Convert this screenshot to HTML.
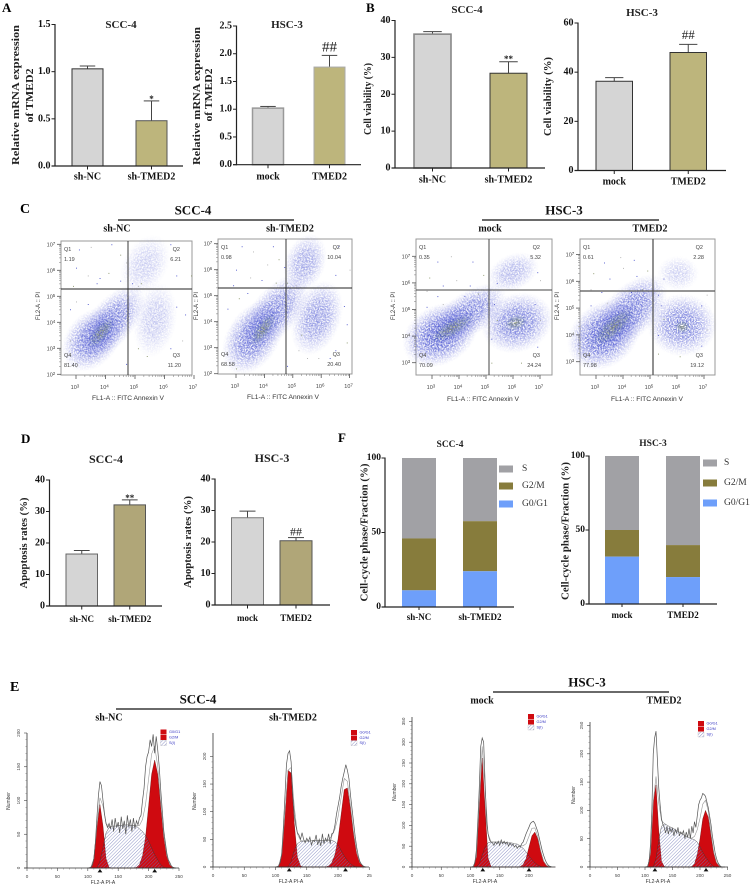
<!DOCTYPE html>
<html lang="en">
<head>
<meta charset="utf-8">
<title>TMED2 multi-panel figure</title>
<style>
html,body{margin:0;padding:0;background:#fff;}
svg{display:block;}
text{font-family:"Liberation Serif",serif;}
</style>
</head>
<body>
<svg id="figure" xmlns="http://www.w3.org/2000/svg" width="750" height="887" viewBox="0 0 750 887">
<defs>
<radialGradient id="blobBlue"><stop offset="0" stop-color="#2a36c8" stop-opacity="0.9"/><stop offset="0.45" stop-color="#3540cc" stop-opacity="0.72"/><stop offset="0.75" stop-color="#5a62d8" stop-opacity="0.35"/><stop offset="1" stop-color="#8a90e4" stop-opacity="0"/></radialGradient>
<radialGradient id="blobCore"><stop offset="0" stop-color="#8f9a3c" stop-opacity="0.9"/><stop offset="0.6" stop-color="#6c8a7a" stop-opacity="0.55"/><stop offset="1" stop-color="#4a60b0" stop-opacity="0"/></radialGradient>
<filter id="speckle" x="0" y="0" width="100%" height="100%" color-interpolation-filters="sRGB">
<feTurbulence type="fractalNoise" baseFrequency="0.75" numOctaves="1" seed="4" result="n"/>
<feColorMatrix in="n" type="matrix" values="0 0 0 0 0  0 0 0 0 0  0 0 0 0 0  3.2 0 0 0 -1.05" result="m"/>
<feComposite in="SourceGraphic" in2="m" operator="in"/>
</filter>
<pattern id="hatch" width="2.4" height="2.4" patternUnits="userSpaceOnUse" patternTransform="rotate(45)">
<line x1="0" y1="0" x2="0" y2="2.4" stroke="#6f76b6" stroke-width="0.75"/>
</pattern>
</defs>
<text x="2" y="12" font-size="13" font-weight="bold">A</text>
<text x="366" y="12" font-size="13" font-weight="bold">B</text>
<text x="20" y="213" font-size="14" font-weight="bold">C</text>
<text x="21" y="443" font-size="13" font-weight="bold">D</text>
<text x="10" y="691" font-size="14" font-weight="bold">E</text>
<text x="338" y="442" font-size="13" font-weight="bold">F</text>
</svg>
<script>
/* ---------- bar chart data ---------- */
const mrnaScc4Categories = ['sh-NC','sh-TMED2'];
const mrnaScc4Values = [1.03,0.48];
const mrnaScc4Errors = [0.03,0.21];
const mrnaScc4Marks = ['','*'];
const mrnaScc4Ticks = ['0.0','0.5','1.0','1.5'];

const mrnaHsc3Categories = ['mock','TMED2'];
const mrnaHsc3Values = [1.02,1.76];
const mrnaHsc3Errors = [0.03,0.21];
const mrnaHsc3Marks = ['','##'];
const mrnaHsc3Ticks = ['0.0','0.5','1.0','1.5','2.0','2.5'];

const viabilityScc4Categories = ['sh-NC','sh-TMED2'];
const viabilityScc4Values = [36.3,25.7];
const viabilityScc4Errors = [0.7,3.1];
const viabilityScc4Marks = ['','**'];
const viabilityScc4Ticks = ['0','10','20','30','40'];

const viabilityHsc3Categories = ['mock','TMED2'];
const viabilityHsc3Values = [36.3,48];
const viabilityHsc3Errors = [1.5,3.3];
const viabilityHsc3Marks = ['','##'];
const viabilityHsc3Ticks = ['0','20','40','60'];

const apoptosisScc4Categories = ['sh-NC','sh-TMED2'];
const apoptosisScc4Values = [16.5,32.1];
const apoptosisScc4Errors = [1.1,1.6];
const apoptosisScc4Marks = ['','**'];
const apoptosisScc4Ticks = ['0','10','20','30','40'];

const apoptosisHsc3Categories = ['mock','TMED2'];
const apoptosisHsc3Values = [27.7,20.4];
const apoptosisHsc3Errors = [2.1,1.0];
const apoptosisHsc3Marks = ['','##'];
const apoptosisHsc3Ticks = ['0','10','20','30','40'];

/* ---------- stacked cell-cycle data ---------- */
const cycleLegend = ['S','G2/M','G0/G1'];
const cycleTicks = ['0','50','100'];
const cycleScc4Categories = ['sh-NC','sh-TMED2'];
const cycleScc4G0G1 = [11.2,24];
const cycleScc4G2M = [34.8,33.6];
const cycleScc4S = [54,42.4];
const cycleHsc3Categories = ['mock','TMED2'];
const cycleHsc3G0G1 = [32,18.2];
const cycleHsc3G2M = [18,21.6];
const cycleHsc3S = [50,60.2];

/* ---------- flow cytometry data (log10 decades) ---------- */
const flowDecadeLabels = [3,4,5,6,7];
const flowYDecadeLabels = [2,3,4,5,6,7];
/* population: [log x, log y, major radius, minor radius, angle, weight] */
const flowPop1 = [[3.55,3.35,1.0,0.72,-50,0.85],[4.2,4.0,1.25,0.62,-50,0.8],[5.68,4.09,1.05,0.6,-80,0.34],[5.34,6.2,0.9,0.62,-60,0.3]];
const flowPop2 = [[3.6,3.4,1.15,0.75,-58,0.85],[4.35,4.35,1.3,0.65,-50,0.75],[5.85,4.14,1.1,0.68,-70,0.65],[5.43,6.26,0.85,0.58,-70,0.55]];
const flowPop3 = [[3.3,4.05,1.15,0.85,-30,1],[4.3,4.8,1.3,0.62,-35,0.8],[6.15,4.5,1.05,0.85,-20,0.8],[6.0,6.4,0.78,0.52,-25,0.45]];
const flowPop4 = [[3.3,4.0,1.15,0.9,-40,1],[4.25,4.85,1.35,0.72,-45,0.85],[6.19,4.37,1.0,0.9,0,0.75],[6.04,6.3,0.6,0.5,0,0.28]];
/* densest spot of each plot: [log x, log y, major, minor, angle] */
const flowCore1 = [[3.85,3.6,0.7,0.28,-50]];
const flowCore2 = [[3.95,3.7,0.75,0.28,-55]];
const flowCore3 = [[3.75,4.3,0.95,0.32,-30],[6.1,4.5,0.45,0.3,-20]];
const flowCore4 = [[3.65,4.3,1.0,0.38,-42],[6.2,4.3,0.3,0.25,0]];
const flowSparse1 = [[3.1,6.8],[3.5,6.9],[4.2,7.0],[4.5,6.6],[3.0,6.1],[3.4,5.8],[3.8,5.7],[4.1,5.9],[4.5,5.6],[4.7,6.3],[3.7,5.5],[2.9,5.4],[4.9,5.5],[5.1,5.4],[6.4,5.8],[6.9,5.8],[6.2,7.0],[3.0,2.3],[4.7,2.4],[5.4,2.7],[6.2,3.0],[6.6,3.3],[6.4,4.6],[5.2,5.5],[2.8,4.5],[3.0,4.8],[3.4,4.7],[5.1,3.0],[6.7,4.3],[2.8,3.3]];
const flowSparse2 = [[3.2,6.9],[3.6,6.7],[4.3,6.9],[4.5,6.4],[3.0,6.0],[3.5,5.7],[3.9,5.6],[4.4,5.5],[4.7,6.1],[4.1,6.2],[2.9,5.4],[4.8,5.5],[6.5,5.8],[7.0,6.0],[6.6,6.9],[3.0,2.2],[4.8,2.3],[5.2,2.9],[6.5,2.9],[6.9,3.2],[6.8,4.6],[5.1,5.4],[2.7,4.5],[3.1,4.9],[3.4,5.1],[5.5,2.6],[6.9,3.9],[5.3,3.5],[6.3,2.6],[5.9,2.6]];
const flowSparse3 = [[3.2,6.8],[3.7,7.0],[4.5,6.8],[2.9,6.2],[3.4,5.9],[3.9,6.1],[4.4,5.9],[4.9,6.3],[4.2,5.5],[2.8,5.7],[3.2,5.5],[4.7,5.6],[6.9,6.4],[7.0,6.1],[5.4,6.0],[5.2,3.0],[6.8,5.2],[7.0,4.6],[5.3,5.2],[5.4,4.6],[2.8,5.1],[3.4,5.2],[5.2,3.9],[6.3,3.0],[6.9,3.6]];
const flowSparse4 = [[3.3,6.7],[3.9,6.9],[4.4,6.8],[2.9,6.3],[3.5,6.1],[4.0,6.5],[4.5,6.2],[4.9,6.4],[4.3,5.6],[2.8,5.7],[3.2,5.6],[4.7,5.7],[5.5,6.1],[7.1,5.5],[5.3,5.5],[5.3,3.3],[6.9,5.1],[7.1,4.2],[5.4,5.1],[5.5,4.6],[2.8,5.1],[3.4,5.2],[5.3,4.0],[6.1,3.2],[6.9,3.6]];
const flowQuad1 = ['1.19','6.21','11.20','81.40'];
const flowQuad2 = ['0.98','10.04','20.40','68.58'];
const flowQuad3 = ['0.35','5.32','24.24','70.09'];
const flowQuad4 = ['0.61','2.28','19.12','77.98'];

/* ---------- cell-cycle histogram data ---------- */
const channels = [100,105,110,115,120,125,130,135,140,145,150,155,160,165,170,175,180,185,190,195,200,205,210,215,220,225,230,235,240,245];
const channelsFine = [100,102.5,105,107.5,110,112.5,115,117.5,120,122.5,125,127.5,130,132.5,135,137.5,140,142.5,145,147.5,150,152.5,155,157.5,160,162.5,165,167.5,170,172.5,175,177.5,180,182.5,185,187.5,190,192.5,195,197.5,200,202.5,205,207.5,210,212.5,215,217.5,220,222.5,225,227.5,230,232.5,235,237.5,240,242.5,245];

const hist1G1 = [0,1,14,62,94,62,14,1,0,0,0,0,0,0,0,0,0,0,0,0,0,0,0,0,0,0,0,0,0,0];
const hist1G2 = [0,0,0,0,0,0,0,0,0,0,0,0,0,0,0,0,1,5,18,46,92,139,160,139,92,46,18,5,1,0];
const hist1S = [0,0,0,0,10,30,52,60,62,62,63,63,64,64,63,63,62,58,54,48,40,30,20,12,5,1,0,0,0,0];
const hist1Raw = [0,0,1,4,14,38,75,108,128,122,100,80,66,60,66,58,72,54,74,60,68,52,76,58,70,50,78,60,72,54,74,58,70,64,74,78,100,118,150,165,172,190,180,198,170,195,175,150,115,85,55,38,22,12,8,3,1,0,0];

const hist2G1 = [0,2,22,95,175,170,80,18,2,0,0,0,0,0,0,0,0,0,0,0,0,0,0,0,0,0,0,0,0,0];
const hist2G2 = [0,0,0,0,0,0,0,0,0,0,0,0,0,0,0,0,0,2,8,22,50,95,140,143,105,60,25,8,2,0];
const hist2S = [0,0,0,0,0,10,30,42,46,47,47,47,48,48,48,48,48,48,48,46,40,30,20,12,6,2,0,0,0,0];
const hist2Raw = [0,0,2,8,25,70,125,185,205,210,190,130,95,75,62,58,50,62,50,44,52,46,54,40,48,46,58,40,50,38,60,42,52,46,60,42,60,62,75,95,110,125,145,160,172,185,175,160,130,105,80,55,35,20,10,5,2,0,0];

const hist3G1 = [0,1,25,145,262,140,22,1,0,0,0,0,0,0,0,0,0,0,0,0,0,0,0,0,0,0,0,0,0,0];
const hist3G2 = [0,0,0,0,0,0,0,0,0,0,0,0,0,0,0,0,0,1,6,20,48,75,84,68,38,14,4,1,0,0];
const hist3S = [0,0,0,8,28,48,58,60,60,60,60,59,59,58,58,56,55,50,45,36,26,18,10,5,1,0,0,0,0,0];
const hist3Raw = [0,0,2,10,40,110,190,290,310,300,200,110,80,65,60,58,52,60,55,62,52,65,56,62,55,60,50,58,52,55,48,52,45,50,48,56,60,70,80,88,96,105,108,110,105,95,85,70,55,40,28,18,10,5,2,1,0,0,0];

const hist4G1 = [0,1,25,115,145,65,10,1,0,0,0,0,0,0,0,0,0,0,0,0,0,0,0,0,0,0,0,0,0,0];
const hist4G2 = [0,0,0,0,0,0,0,0,0,0,0,0,0,0,0,0,0,1,6,22,50,85,100,88,55,25,8,2,0,0];
const hist4S = [0,0,0,0,15,48,72,76,74,71,69,66,63,60,57,54,52,50,48,44,36,26,18,11,5,1,0,0,0,0];
const hist4Raw = [0,0,2,10,40,100,200,228,240,190,140,110,85,75,70,60,72,58,70,62,68,55,66,60,70,55,62,58,64,50,62,52,68,50,72,60,80,70,90,110,118,122,130,128,125,115,105,90,75,55,40,25,15,8,4,1,0,0,0];

const histXTicks1 = [0,50,100,150,200,250];
const histYTicks1 = [0,50,100,150,200];
const histXTicks2 = [0,50,100,150,200,250];
const histYTicks2 = [0,50,100,150,200];
const histXTicks3 = [0,50,100,150,200];
const histYTicks3 = [0,50,100,150,200,250,300,350];
const histXTicks4 = [0,50,100,150,200,250];
const histYTicks4 = [0,50,100,150,200,250];
const histPeaks1 = [120,210];
const histPeaks2 = [122,212];
const histPeaks3 = [121,200];
const histPeaks4 = [118,211];
const histLegend = ['G0/G1','G2/M','S(I)'];

/* ---------- helpers ---------- */
const NS = 'http://www.w3.org/2000/svg';
const root = document.getElementById('figure');
function mk(parent, tag, attrs, name) {
  const el = document.createElementNS(NS, tag);
  for (const k in attrs) el.setAttribute(k, attrs[k]);
  
  
  parent.appendChild(el);
  return el;
}
function txt(parent, s, x, y, o, name) {
  o = o || {};
  const a = {x: x, y: y, 'font-size': o.size || 10, 'text-anchor': o.anchor || 'middle', 'dominant-baseline': 'central', fill: o.fill || '#111'};
  if (o.bold) a['font-weight'] = 'bold';
  if (o.sans) a.style = 'font-family:"Liberation Sans",sans-serif';
  if (o.len) { a.textLength = o.len; a.lengthAdjust = 'spacingAndGlyphs'; }
  if (o.rot) a.transform = 'rotate(' + o.rot + ' ' + x + ' ' + y + ')';
  const el = mk(parent, 'text', a, name);
  el.textContent = s;
  return el;
}
function line(parent, x1, y1, x2, y2, stroke, w, name) {
  return mk(parent, 'line', {x1: x1, y1: y1, x2: x2, y2: y2, stroke: stroke, 'stroke-width': w}, name);
}

/* ---------- bar charts ---------- */
function barChart(c) {
  const g = mk(root, 'g', {}, c.name);
  const yS = v => c.y0 - (v / c.yMax) * (c.y0 - c.yTop);
  const xS = i => c.bar0 + c.step * i;
  const n = c.ticks.length;
  c.ticks.forEach((t, i) => {
    const v = c.yMax * i / (n - 1);
    line(g, c.ax - 3.5, yS(v), c.ax, yS(v), '#222', 1, 'y-tick');
    txt(g, t, c.ax - 4.5, yS(v), {size: c.tickSize || 10, bold: true, anchor: 'end'}, 'y-tick-label');
  });
  c.values.forEach((v, i) => {
    const w = c.barW, x = xS(i);
    const fill = i === 0 ? '#d5d5d5' : c.olive;
    line(g, x + w / 2, yS(v), x + w / 2, yS(v + c.errors[i]), '#444', 1, 'error-bar-' + c.cats[i]);
    line(g, x + w / 4, yS(v + c.errors[i]), x + 3 * w / 4, yS(v + c.errors[i]), '#444', 1, 'error-cap-' + c.cats[i]);
    mk(g, 'rect', {x: x, y: yS(v), width: w, height: c.y0 - yS(v), fill: fill, stroke: i === 0 ? c.stroke0 : c.stroke1, 'stroke-width': i === 0 ? c.sw0 : 1}, 'bar-' + c.cats[i]);
    line(g, x + w / 2, c.y0, x + w / 2, c.y0 + 3.5, '#222', 1, 'x-tick');
    txt(g, c.cats[i], x + w / 2 + (c.labelDx || 0), c.labelY, {size: c.labelSize || 10, bold: true}, 'x-label-' + c.cats[i]);
    if (c.marks[i]) {
      const isHash = c.marks[i][0] === '#';
      txt(g, c.marks[i], x + w / 2, yS(v + c.errors[i]) - (c.markDy || 6), {size: isHash ? c.hashSize : 9, bold: !isHash, fill: '#222'}, 'significance-mark');
    }
  });
  line(g, c.ax, c.yTop - 0.5, c.ax, c.y0 + 0.5, '#222', 1.2, 'y-axis');
  line(g, c.ax - 3.5, c.y0, c.xEnd, c.y0, '#222', 1.2, 'x-axis');
  txt(g, c.title, c.titleX, c.titleY, {size: c.titleSize || 11, bold: true, fill: '#222'}, 'chart-title');
  c.ylabel.forEach(l => {
    txt(g, l.t, l.x, l.y, {size: 11, bold: true, rot: -90, len: l.len, fill: '#222'}, 'y-axis-title');
  });
}
barChart({name:'mrna-scc4-chart', cats:mrnaScc4Categories, values:mrnaScc4Values, errors:mrnaScc4Errors, marks:mrnaScc4Marks, ticks:mrnaScc4Ticks,
  yMax:1.5, ax:55, y0:166, yTop:24.5, xEnd:183, bar0:72, step:64, barW:31, olive:'#bdb57c', stroke0:'#333', stroke1:'#555', sw0:1, labelY:177, markDy:2, hashSize:15,
  title:'SCC-4', titleX:121, titleY:25, ylabel:[{t:'Relative mRNA expression',x:16,y:95,len:140},{t:'of TMED2',x:30,y:95.5,len:54}]});
barChart({name:'mrna-hsc3-chart', cats:mrnaHsc3Categories, values:mrnaHsc3Values, errors:mrnaHsc3Errors, marks:mrnaHsc3Marks, ticks:mrnaHsc3Ticks,
  yMax:2.5, ax:236.5, y0:164.7, yTop:26, xEnd:361, bar0:252.5, step:61.5, barW:31, olive:'#bdb57c', stroke0:'#999', stroke1:'#aaa', sw0:1.5, labelY:177, markDy:8, hashSize:15,
  title:'HSC-3', titleX:287, titleY:25, ylabel:[{t:'Relative mRNA expression',x:197,y:96,len:138},{t:'of TMED2',x:209,y:95,len:53}]});
barChart({name:'viability-scc4-chart', cats:viabilityScc4Categories, values:viabilityScc4Values, errors:viabilityScc4Errors, marks:viabilityScc4Marks, ticks:viabilityScc4Ticks,
  yMax:40, ax:395, y0:168, yTop:20.5, xEnd:545, bar0:414, step:76, barW:37, olive:'#bdb57c', stroke0:'#888', stroke1:'#333', sw0:1.6, labelY:180, markDy:3, hashSize:13,
  title:'SCC-4', titleX:467, titleY:10, ylabel:[{t:'Cell viability (%)',x:368,y:99,len:72}]});
barChart({name:'viability-hsc3-chart', cats:viabilityHsc3Categories, values:viabilityHsc3Values, errors:viabilityHsc3Errors, marks:viabilityHsc3Marks, ticks:viabilityHsc3Ticks,
  yMax:60, ax:578, y0:170.5, yTop:23, xEnd:726, bar0:596, step:74, barW:36.5, olive:'#bdb57c', stroke0:'#333', stroke1:'#333', sw0:1, labelY:182, markDy:10, hashSize:13,
  title:'HSC-3', titleX:642, titleY:13, ylabel:[{t:'Cell viability (%)',x:548,y:96.5,len:79}]});
barChart({name:'apoptosis-scc4-chart', cats:apoptosisScc4Categories, values:apoptosisScc4Values, errors:apoptosisScc4Errors, marks:apoptosisScc4Marks, ticks:apoptosisScc4Ticks,
  yMax:40, ax:49.5, y0:606, yTop:480, xEnd:162, bar0:66, step:48, barW:31.5, olive:'#b0a678', stroke0:'#666', stroke1:'#555', sw0:1, labelY:619, labelSize:9, markDy:2, hashSize:12,
  title:'SCC-4', titleX:106, titleY:459, titleSize:12, ylabel:[{t:'Apoptosis rates (%)',x:24,y:543,len:91}]});
barChart({name:'apoptosis-hsc3-chart', cats:apoptosisHsc3Categories, values:apoptosisHsc3Values, errors:apoptosisHsc3Errors, marks:apoptosisHsc3Marks, ticks:apoptosisHsc3Ticks,
  yMax:40, ax:215, y0:605, yTop:479, xEnd:330, bar0:231.5, step:48.5, barW:32, olive:'#b0a678', stroke0:'#777', stroke1:'#555', sw0:1, labelY:618, labelSize:9, markDy:6, hashSize:12,
  title:'HSC-3', titleX:272, titleY:458, titleSize:12, ylabel:[{t:'Apoptosis rates (%)',x:188,y:542,len:92}]});

/* ---------- stacked bars ---------- */
function stackedChart(c) {
  const g = mk(root, 'g', {}, c.name);
  const yS = v => c.y0 - (v / 100) * (c.y0 - c.yTop);
  const colors = {s:'#a1a1a5', g2:'#877c3c', g0:'#6e9ffa'};
  c.cats.forEach((cat, i) => {
    const x = c.bar0 + c.step * i;
    const a = c.g0[i], b = a + c.g2[i], t = b + c.s[i];
    mk(g, 'rect', {x:x, y:yS(t), width:c.barW, height:yS(b)-yS(t), fill:colors.s}, 'segment-s-' + cat);
    mk(g, 'rect', {x:x, y:yS(b), width:c.barW, height:yS(a)-yS(b), fill:colors.g2}, 'segment-g2m-' + cat);
    mk(g, 'rect', {x:x, y:yS(a), width:c.barW, height:c.y0-yS(a), fill:colors.g0}, 'segment-g0g1-' + cat);
    line(g, x + c.barW/2, c.y0, x + c.barW/2, c.y0 + 3, '#222', 1, 'x-tick');
    txt(g, cat, x + c.barW/2 + (c.labelDx||0), c.labelY, {size:9, bold:true}, 'x-label-' + cat);
  });
  cycleTicks.forEach((t, i) => {
    const v = 100 * i / (cycleTicks.length - 1);
    line(g, c.ax - 3.5, yS(v), c.ax, yS(v), '#222', 1, 'y-tick');
    txt(g, t, c.ax - 4, yS(v), {size:9.5, bold:true, anchor:'end'}, 'y-tick-label');
  });
  line(g, c.ax, c.yTop - 0.5, c.ax, c.y0 + 0.5, '#222', 1.2, 'y-axis');
  line(g, c.ax - 3.5, c.y0, c.xEnd, c.y0, '#222', 1.2, 'x-axis');
  txt(g, c.title, c.titleX, c.titleY, {size:9.5, bold:true, fill:'#222'}, 'chart-title');
  txt(g, 'Cell-cycle phase/Fraction (%)', c.ylabelX, c.ylabelY, {size:10.5, bold:true, rot:-90, len:138, fill:'#222'}, 'y-axis-title');
  const sw = [colors.s, colors.g2, colors.g0];
  cycleLegend.forEach((l, i) => {
    mk(g, 'rect', {x:c.legX, y:c.legY[i]-3.5, width:14, height:7, fill:sw[i]}, 'legend-swatch-' + l);
    txt(g, l, c.legTx, c.legY[i], {size:9.5, anchor:'start', fill:'#333'}, 'legend-entry-' + l);
  });
}
stackedChart({name:'cycle-scc4-chart', cats:cycleScc4Categories, g0:cycleScc4G0G1, g2:cycleScc4G2M, s:cycleScc4S,
  ax:385, y0:607, yTop:458, xEnd:514, bar0:402, step:61, barW:34, labelY:617, title:'SCC-4', titleX:450, titleY:445, ylabelX:365, ylabelY:532.5,
  legX:499, legY:[469,486,504], legTx:522});
stackedChart({name:'cycle-hsc3-chart', cats:cycleHsc3Categories, g0:cycleHsc3G0G1, g2:cycleHsc3G2M, s:cycleHsc3S,
  ax:589, y0:604, yTop:456, xEnd:717, bar0:605, step:61, barW:34, labelY:615, title:'HSC-3', titleX:653, titleY:444, ylabelX:566, ylabelY:531,
  legX:703, legY:[463,483,503], legTx:724});

/* ---------- group headers ---------- */
function header(title, tx, ty, x1, x2, ly, labels) {
  const g = mk(root, 'g', {}, 'group-header-' + title);
  txt(g, title, tx, ty, {size:13, bold:true, fill:'#111'}, 'group-title');
  line(g, x1, ly, x2, ly, '#111', 1.3, 'group-bracket');
  labels.forEach(l => {
    txt(g, l.t, l.x, l.y, {size:10, bold:true, fill:'#111'}, 'condition-label-' + l.t);
  });
}
header('SCC-4', 193, 210, 118, 294, 220, [{t:'sh-NC',x:117,y:229},{t:'sh-TMED2',x:290,y:229}]);
header('HSC-3', 564, 210, 482, 659, 220, [{t:'mock',x:490,y:229},{t:'TMED2',x:650,y:229}]);
header('SCC-4', 198, 699, 116, 292, 709, [{t:'sh-NC',x:109,y:718},{t:'sh-TMED2',x:293,y:718}]);
header('HSC-3', 587, 682, 493, 669, 692, [{t:'mock',x:482,y:701},{t:'TMED2',x:664,y:701}]);

/* ---------- flow plots ---------- */
function flowPlot(c) {
  const g = mk(root, 'g', {}, c.name);
  const xS = l => c.x3 + (l - 3) * c.dx;
  const yS = l => c.y3 - (l - 3) * c.dy;
  mk(g, 'rect', {x:c.x0, y:c.y0, width:c.x1-c.x0, height:c.y1-c.y0, fill:'#fff', stroke:'#999', 'stroke-width':1}, 'plot-frame');
  const unit = (c.dx + c.dy) / 2;
  c.pops.forEach(p => {
    const cx = xS(p[0]), cy = yS(p[1]);
    mk(g, 'ellipse', {cx:cx, cy:cy, rx:p[2]*unit*1.3, ry:p[3]*unit*1.3, fill:'url(#blobBlue)', opacity:p[5], filter:'url(#speckle)', transform:'rotate('+p[4]+' '+cx+' '+cy+')'}, 'cell-population');
  });
  c.core.forEach(p => {
    const cx = xS(p[0]), cy = yS(p[1]);
    mk(g, 'ellipse', {cx:cx, cy:cy, rx:p[2]*unit, ry:p[3]*unit, fill:'url(#blobCore)', opacity:0.75, filter:'url(#speckle)', transform:'rotate('+p[4]+' '+cx+' '+cy+')'}, 'dense-population-core');
  });
  const dotColors = ['#3a44c8','#a8a8a8','#3a44c8','#7d8a5a'];
  c.sparse.forEach((p, i) => {
    mk(g, 'rect', {x:xS(p[0]), y:yS(p[1]), width:0.9, height:0.9, fill:dotColors[i % 4]}, 'event-point');
  });
  line(g, c.vx, c.y0, c.vx, c.y1, c.crossColor, c.crossW, 'quadrant-gate-vertical');
  line(g, c.x0, c.hy, c.x1, c.hy, c.crossColor, c.crossW, 'quadrant-gate-horizontal');
  flowDecadeLabels.forEach(d => {
    line(g, xS(d), c.y1, xS(d), c.y1 + 4, '#555', 0.8, 'x-tick-major');
    [2,3,4,5,6,7,8,9].forEach(m => {
      const px = xS(d + Math.log10(m));
      if (d < 7 && px < c.x1) line(g, px, c.y1, px, c.y1 + 2, '#777', 0.5, 'x-tick-minor');
    });
    const t = txt(g, '10', xS(d) - 1, c.y1 + 13, {size:5.5, sans:true, fill:'#444'}, 'x-tick-label');
    const s = mk(t, 'tspan', {dy:-2.5, 'font-size':4.5}, 'x-tick-exponent');
    s.textContent = d;
  });
  flowYDecadeLabels.forEach(d => {
    const py = yS(d);
    if (py > c.y1 + 1) return;
    line(g, c.x0 - 4, py, c.x0, py, '#555', 0.8, 'y-tick-major');
    [2,3,4,5,6,7,8,9].forEach(m => {
      const ly = yS(d + Math.log10(m));
      if (d < 7 && ly > c.y0) line(g, c.x0 - 2, ly, c.x0, ly, '#777', 0.5, 'y-tick-minor');
    });
    const t = txt(g, '10', c.x0 - 10, py + 1, {size:5.5, sans:true, fill:'#444'}, 'y-tick-label');
    const s = mk(t, 'tspan', {dy:-2.5, 'font-size':4.5}, 'y-tick-exponent');
    s.textContent = d;
  });
  const qs = {size:5.5, sans:true, fill:'#444', anchor:'start'};
  const qe = {size:5.5, sans:true, fill:'#444', anchor:'end'};
  txt(g, 'Q1', c.x0 + 3, c.y0 + 9, qs, 'quadrant-q1-label');
  txt(g, c.quad[0], c.x0 + 3, c.y0 + 19, qs, 'quadrant-q1-value');
  txt(g, 'Q2', c.x1 - 12, c.y0 + 9, qe, 'quadrant-q2-label');
  txt(g, c.quad[1], c.x1 - 11, c.y0 + 19, qe, 'quadrant-q2-value');
  txt(g, 'Q3', c.x1 - 12, c.y1 - 19, qe, 'quadrant-q3-label');
  txt(g, c.quad[2], c.x1 - 11, c.y1 - 9, qe, 'quadrant-q3-value');
  txt(g, 'Q4', c.x0 + 3, c.y1 - 19, qs, 'quadrant-q4-label');
  txt(g, c.quad[3], c.x0 + 3, c.y1 - 9, qs, 'quadrant-q4-value');
  txt(g, 'FL1-A :: FITC Annexin V', c.xtX, c.xtY, {size:6, sans:true, len:72, fill:'#333'}, 'x-axis-title');
  txt(g, 'FL2-A :: PI', c.ytX, 306, {size:6, sans:true, len:28, rot:-90, fill:'#333'}, 'y-axis-title');
}
flowPlot({name:'flow-plot-scc4-sh-nc', x0:61, x1:192, y0:241, y1:375, vx:128, hy:289, x3:76, dx:29.5, y3:348.3, dy:26, pops:flowPop1, core:flowCore1, sparse:flowSparse1, quad:flowQuad1, xtX:128, xtY:399, ytX:39, crossColor:'#222', crossW:0.9});
flowPlot({name:'flow-plot-scc4-sh-tmed2', x0:218, x1:352, y0:239, y1:374, vx:286, hy:288, x3:236, dx:28.4, y3:347.7, dy:26, pops:flowPop2, core:flowCore2, sparse:flowSparse2, quad:flowQuad2, xtX:283, xtY:398, ytX:197, crossColor:'#222', crossW:0.9});
flowPlot({name:'flow-plot-hsc3-mock', x0:416, x1:552, y0:239, y1:375, vx:489, hy:290, x3:432, dx:27, y3:362.7, dy:26.6, pops:flowPop3, core:flowCore3, sparse:flowSparse3, quad:flowQuad3, xtX:483, xtY:400, ytX:394, crossColor:'#444', crossW:1});
flowPlot({name:'flow-plot-hsc3-tmed2', x0:580, x1:715, y0:239, y1:375, vx:653, hy:291, x3:596, dx:27, y3:361.7, dy:26.8, pops:flowPop4, core:flowCore4, sparse:flowSparse4, quad:flowQuad4, xtX:647, xtY:400, ytX:558, crossColor:'#555', crossW:1.3});

/* ---------- cell cycle histograms ---------- */
function histPlot(c) {
  const g = mk(root, 'g', {}, c.name);
  const xS = v => c.ax + v * c.sx;
  const yS = v => c.y0 - v * c.sy;
  const area = arr => {
    let d = 'M' + xS(channels[0]) + ' ' + yS(0);
    arr.forEach((v, i) => { d += ' L' + xS(channels[i]) + ' ' + yS(v); });
    return d + ' L' + xS(channels[channels.length - 1]) + ' ' + yS(0) + ' Z';
  };
  mk(g, 'path', {d:area(c.g1), fill:'#cf0a10', stroke:'#400', 'stroke-width':0.3, 'stroke-linejoin':'round'}, 'g0g1-peak');
  mk(g, 'path', {d:area(c.g2), fill:'#cf0a10', stroke:'#400', 'stroke-width':0.3, 'stroke-linejoin':'round'}, 'g2m-peak');
  mk(g, 'path', {d:area(c.s), fill:'url(#hatch)', stroke:'#333', 'stroke-width':0.4}, 's-phase-area');
  let fit = '';
  channels.forEach((ch, i) => {
    fit += (i ? ' L' : 'M') + xS(ch) + ' ' + yS(c.g1[i] + c.g2[i] + c.s[i]);
  });
  mk(g, 'path', {d:fit, fill:'none', stroke:'#999', 'stroke-width':0.6}, 'model-fit-line');
  let raw = '';
  channelsFine.forEach((ch, i) => {
    raw += (i ? ' L' : 'M') + xS(ch) + ' ' + yS(c.raw[i]);
  });
  mk(g, 'path', {d:raw, fill:'none', stroke:'#555', 'stroke-width':0.7}, 'raw-histogram-line');
  line(g, c.ax, c.yTop, c.ax, c.y0, '#333', 0.8, 'y-axis');
  line(g, c.ax - 3, c.y0, c.xEnd, c.y0, '#333', 0.8, 'x-axis');
  c.xt.forEach(t => {
    line(g, xS(t), c.y0, xS(t), c.y0 + 3, '#444', 0.6, 'x-tick');
    txt(g, t === 250 && c.truncate ? '25' : t, xS(t), c.y0 + 8.5, {size:4.6, sans:true, fill:'#444'}, 'x-tick-label');
    if (t < c.xt[c.xt.length - 1]) {
      [10,20,30,40].forEach(m => {
        line(g, xS(t + m), c.y0, xS(t + m), c.y0 + 1.6, '#666', 0.4, 'x-tick-minor');
      });
    }
  });
  c.yt.forEach(t => {
    line(g, c.ax - 3, yS(t), c.ax, yS(t), '#444', 0.6, 'y-tick');
    txt(g, t, c.ax - 8.5, yS(t), {size:4.6, sans:true, rot:-90, fill:'#444'}, 'y-tick-label');
    if (t < c.yt[c.yt.length - 1]) {
      [10,20,30,40].forEach(m => {
        line(g, c.ax - 1.6, yS(t + m), c.ax, yS(t + m), '#666', 0.4, 'y-tick-minor');
      });
    }
  });
  c.peaks.forEach(p => {
    const px = xS(p), py = c.y0 + 1;
    mk(g, 'path', {d:'M'+(px-2.4)+' '+(py+3.4)+' L'+(px+2.4)+' '+(py+3.4)+' L'+px+' '+py+' Z', fill:'#111'}, 'peak-marker');
  });
  txt(g, 'FL2-A PI-A', c.xtX, c.y0 + 15, {size:5, sans:true, fill:'#333'}, 'x-axis-title');
  txt(g, 'Number', c.ytX, c.ytY, {size:5, sans:true, rot:-90, fill:'#333'}, 'y-axis-title');
  histLegend.forEach((l, i) => {
    mk(g, 'rect', {x:c.legX, y:c.legY[i]-2.5, width:6, height:5, fill:i < 2 ? '#cf0a10' : 'url(#hatch)', stroke:i < 2 ? 'none' : '#889', 'stroke-width':0.2}, 'legend-swatch-' + l);
    txt(g, l, c.legX + 8.5, c.legY[i], {size:3.8, sans:true, anchor:'start', fill:'#3030c0'}, 'legend-entry-' + l);
  });
}
histPlot({name:'histogram-scc4-sh-nc', g1:hist1G1, g2:hist1G2, s:hist1S, raw:hist1Raw, xt:histXTicks1, yt:histYTicks1, peaks:histPeaks1,
  ax:27, sx:0.608, y0:868, sy:0.675, yTop:733, xEnd:179, xtX:103, ytX:9, ytY:801, legX:160.5, legY:[732,737.5,743]});
histPlot({name:'histogram-scc4-sh-tmed2', g1:hist2G1, g2:hist2G2, s:hist2S, raw:hist2Raw, xt:histXTicks2, yt:histYTicks2, peaks:histPeaks2, truncate:true,
  ax:213, sx:0.625, y0:867, sy:0.553, yTop:733, xEnd:369, xtX:291, ytX:195, ytY:801, legX:351, legY:[732.5,738,743]});
histPlot({name:'histogram-hsc3-mock', g1:hist3G1, g2:hist3G2, s:hist3S, raw:hist3Raw, xt:histXTicks3, yt:histYTicks3, peaks:histPeaks3,
  ax:412, sx:0.585, y0:867, sy:0.416, yTop:717, xEnd:551, xtX:485, ytX:395, ytY:792, legX:528, legY:[716.5,722,727.5]});
histPlot({name:'histogram-hsc3-tmed2', g1:hist4G1, g2:hist4G2, s:hist4S, raw:hist4Raw, xt:histXTicks4, yt:histYTicks4, peaks:histPeaks4,
  ax:590, sx:0.55, y0:867, sy:0.566, yTop:722, xEnd:728, xtX:658, ytX:574, ytY:795, legX:698, legY:[723.5,729,734.5]});
</script>
</body>
</html>
